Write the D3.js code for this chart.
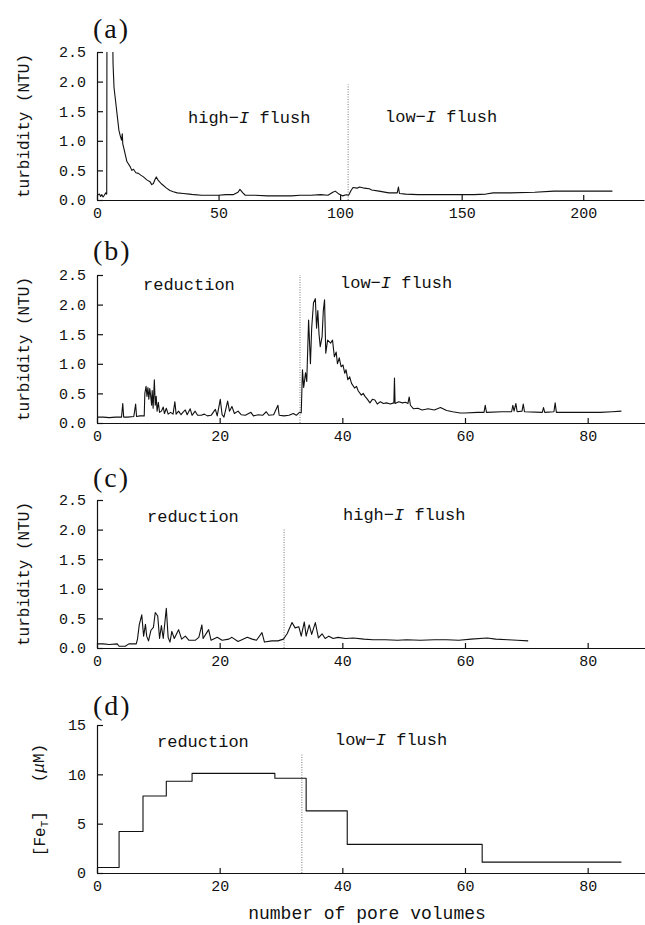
<!DOCTYPE html>
<html>
<head>
<meta charset="utf-8">
<script src="https://cdn.jsdelivr.net/npm/d3@7/dist/d3.min.js"></script>
<style>
  body { margin: 0; background: #fff; }
  svg text { font-family: "Liberation Mono", monospace; fill: #111; }
  .axis path, .axis line { stroke: #111; stroke-width: 1.2; }
  .axis text { font-size: 15px; }
  .trace { fill: none; stroke: #111; stroke-width: 1.1; stroke-linejoin: round; }
  .marker { stroke: #777; stroke-width: 1; stroke-dasharray: 1, 1.5; }
</style>
</head>
<body>
<div id="container"></div>
<script>
// ---- data ----
let xTicksA = [0, 50, 100, 150, 200]
let xTicksBCD = [0, 20, 40, 60, 80]
let turbTicks = [0, 0.5, 1, 1.5, 2, 2.5]
let feTicks = [0, 5, 10, 15]

// (a) turbidity, pore volumes vs NTU
let turbA = [[0,0.08],[1,0.1],[1.5,0.06],[2,0.09],[2.5,0.05],[3,0.08],[3.6,0.12],[4.0,0.1],[4.1,3.0],[6.4,3.0],
  [6.6,2.3],[7.0,1.9],[7.9,1.58],[9.0,1.18],[9.6,1.08],[10.1,1.01],[10.4,1.12],[10.6,0.95],[11,0.88],[12.3,0.65],
  [13.7,0.56],[14.3,0.5],[15,0.52],[16,0.46],[17,0.45],[18,0.42],[19.1,0.39],[20.5,0.34],[21.8,0.31],[22.5,0.26],
  [23.2,0.28],[23.9,0.35],[24.4,0.39],[25.2,0.33],[26.6,0.27],[28.6,0.2],[30,0.16],[31.4,0.14],[33,0.12],[35.5,0.11],
  [38,0.1],[40,0.09],[43,0.08],[46,0.08],[50,0.08],[53,0.09],[56,0.09],[58,0.13],[58.8,0.18],[60,0.12],[61,0.08],
  [65,0.08],[70,0.07],[75,0.07],[80,0.07],[83.5,0.08],[88,0.08],[92,0.09],[95,0.08],[97,0.13],[98,0.15],[99.5,0.1],
  [101,0.07],[102.5,0.09],[103.5,0.08],[104.5,0.16],[105.3,0.21],[107,0.2],[108,0.22],[110,0.2],[112,0.19],[113,0.17],
  [116,0.15],[120,0.12],[123.5,0.12],[124,0.22],[124.4,0.11],[127,0.1],[132,0.09],[140,0.09],[150,0.09],[155,0.09],
  [160,0.1],[163,0.12],[170,0.12],[180,0.13],[188,0.15],[195,0.15],[200,0.15],[205,0.15],[212,0.15]]

// (b) turbidity
let turbB = [[0,0.1],[1,0.1],[2,0.09],[3,0.1],[4,0.1],[4.2,0.33],[4.35,0.1],[5,0.1],[6,0.11],[6.3,0.32],[6.45,0.11],
  [7,0.12],[7.7,0.12],[7.8,0.5],[8.0,0.62],[8.15,0.45],[8.3,0.6],[8.45,0.4],[8.6,0.58],[8.75,0.46],[8.9,0.3],[9.0,0.55],
  [9.15,0.25],[9.35,0.73],[9.5,0.3],[9.65,0.45],[9.8,0.2],[10.0,0.35],[10.2,0.18],[10.5,0.2],[10.8,0.27],[11.0,0.16],
  [11.3,0.25],[11.6,0.15],[12.0,0.18],[12.4,0.15],[12.7,0.36],[12.9,0.15],[13.3,0.2],[13.7,0.14],[14.0,0.18],[14.4,0.22],
  [14.7,0.14],[15.2,0.24],[15.5,0.13],[16.0,0.2],[16.4,0.13],[17,0.13],[17.5,0.15],[18,0.12],[18.6,0.13],[19.3,0.23],
  [19.6,0.12],[20.1,0.4],[20.4,0.14],[20.7,0.1],[21.3,0.37],[21.6,0.2],[22,0.28],[22.4,0.16],[23,0.2],[23.5,0.14],
  [24.2,0.13],[25.1,0.18],[25.5,0.12],[26.3,0.14],[27,0.13],[27.6,0.19],[28,0.13],[28.8,0.14],[29.5,0.3],[29.7,0.13],
  [30.5,0.12],[31.3,0.13],[32,0.16],[32.5,0.13],[33,0.18],[33.3,0.17],[33.5,0.9],[33.7,0.6],[34.0,0.85],[34.2,0.7],
  [34.5,1.74],[34.8,1.0],[35.0,1.6],[35.3,2.03],[35.6,2.1],[35.8,1.6],[36.0,1.9],[36.2,1.5],[36.4,1.29],[36.7,1.46],
  [36.9,1.9],[37.1,2.08],[37.3,1.18],[37.6,1.4],[38.1,1.35],[38.4,1.4],[38.7,1.12],[39.0,1.2],[39.2,1.0],[39.5,1.1],
  [39.8,0.95],[40.1,0.98],[40.4,0.84],[40.6,0.9],[40.9,0.73],[41.2,0.78],[41.5,0.67],[42,0.59],[42.3,0.62],[42.6,0.54],
  [43.1,0.47],[43.4,0.5],[43.7,0.45],[44.1,0.4],[44.5,0.34],[44.9,0.4],[45.3,0.39],[45.7,0.32],[46.2,0.36],[46.7,0.33],
  [47.2,0.34],[47.8,0.32],[48.4,0.34],[48.5,0.76],[48.6,0.33],[49.2,0.36],[49.8,0.34],[50.3,0.35],[50.7,0.33],[50.9,0.44],
  [51.1,0.3],[51.6,0.24],[52.3,0.25],[53,0.22],[54,0.24],[55,0.22],[56,0.26],[57,0.21],[58,0.19],[59.2,0.17],[60,0.17],
  [62,0.18],[63.1,0.18],[63.3,0.3],[63.5,0.18],[66,0.19],[67.6,0.19],[67.8,0.3],[68.0,0.2],[68.3,0.33],[68.5,0.19],
  [69.3,0.2],[69.5,0.32],[69.7,0.19],[72.6,0.18],[72.8,0.26],[73.0,0.18],[74.5,0.19],[74.7,0.34],[74.9,0.18],[78,0.18],
  [80,0.18],[82,0.18],[84,0.19],[85.5,0.2]]

// (c) turbidity
let turbC = [[0,0.07],[1,0.07],[2,0.06],[3.3,0.07],[3.6,0.03],[4.6,0.03],[5.2,0.07],[6.4,0.07],[6.6,0.15],[6.9,0.4],
  [7.3,0.56],[7.6,0.2],[7.9,0.4],[8.1,0.2],[8.4,0.12],[8.8,0.3],[9.2,0.35],[9.5,0.6],[9.9,0.54],[10.2,0.16],[10.5,0.38],
  [10.8,0.16],[11.3,0.67],[11.6,0.18],[11.9,0.1],[12.2,0.28],[12.6,0.16],[13.3,0.31],[13.8,0.15],[14.4,0.2],[15,0.13],
  [16,0.13],[16.6,0.18],[17.1,0.39],[17.3,0.16],[18.2,0.31],[18.6,0.13],[19.6,0.18],[20.4,0.13],[21.5,0.15],[22,0.18],
  [23,0.11],[24.5,0.18],[25.3,0.15],[26,0.13],[26.9,0.26],[27.3,0.1],[28.5,0.12],[29.5,0.12],[30.4,0.15],[31,0.24],
  [31.8,0.43],[32.3,0.34],[32.9,0.36],[33.3,0.2],[33.8,0.44],[34.1,0.2],[34.6,0.39],[35,0.23],[35.6,0.43],[36.1,0.17],
  [36.7,0.24],[37.2,0.16],[37.8,0.2],[38.5,0.16],[39.3,0.18],[40.5,0.16],[41.8,0.17],[43.5,0.15],[45,0.14],[47,0.14],
  [49,0.13],[50.5,0.14],[52.7,0.13],[55,0.14],[57,0.14],[59,0.13],[61,0.15],[63.6,0.17],[65,0.15],[67,0.14],
  [68.5,0.13],[70.3,0.12]]

// (d) total Fe, step starts (pore volumes, uM)
let feSteps = [[0,0.55],[3.6,4.2],[7.5,7.8],[11.3,9.3],[15.5,10.1],[29,9.6],[34.1,6.3],[40.8,2.9],[62.8,1.1],[85.5,1.1]]

// phase change markers [x, top]
let markerA = [103.3, 1.95]
let markerB = [33.1, 2.5]
let markerC = [30.5, 2.0]
let markerD = [33.4, 12]

let phaseA = ['high', 'low']
let phaseB = ['reduction', 'low']
let phaseC = ['reduction', 'high']
let phaseD = ['reduction', 'low']

let width = 645, height = 925, left = 97

let svg = d3.select('#container')
  .append('svg')
  .attr('width', width)
  .attr('height', height)

let panels = [
  { tag: '(a)', data: turbA, xMax: 225, xRight: 644, xTicks: xTicksA, yMax: 2.5, yTicks: turbTicks, top: 52, bottom: 200,
    marker: markerA, phases: phaseA, tagY: 38, labels: [[188, 123], [385, 122]] },
  { tag: '(b)', data: turbB, xMax: 90, xRight: 649, xTicks: xTicksBCD, yMax: 2.5, yTicks: turbTicks, top: 275, bottom: 423,
    marker: markerB, phases: phaseB, tagY: 260, labels: [[143, 290], [340, 288]] },
  { tag: '(c)', data: turbC, xMax: 90, xRight: 649, xTicks: xTicksBCD, yMax: 2.5, yTicks: turbTicks, top: 500, bottom: 648,
    marker: markerC, phases: phaseC, tagY: 487, labels: [[147, 522], [343, 520]] },
  { tag: '(d)', data: feSteps, step: true, xMax: 90, xRight: 649, xTicks: xTicksBCD, yMax: 15, yTicks: feTicks, top: 725, bottom: 873,
    marker: markerD, phases: phaseD, tagY: 715, labels: [[157, 747], [335, 745]] }
]

function phaseText(sel, name) {
  if (name == 'reduction') {
    sel.text('reduction')
    return
  }
  sel.append('tspan').text(name + '\u2212')
  sel.append('tspan').attr('font-style', 'italic').text('I')
  sel.append('tspan').text(' flush')
}

panels.forEach((p, k) => {
  let x = d3.scaleLinear().domain([0, p.xMax]).range([left, p.xRight])
  let y = d3.scaleLinear().domain([0, p.yMax]).range([p.bottom, p.top])

  let xAxis = d3.axisBottom(x).tickValues(p.xTicks).tickSizeInner(-5).tickSizeOuter(0).tickPadding(7)
  let yAxis = d3.axisLeft(y).tickValues(p.yTicks).tickSizeInner(-6).tickSizeOuter(0).tickPadding(11)
    .tickFormat(p.step ? d3.format('d') : d3.format('.1f'))

  svg.append('g').attr('class', 'axis')
    .attr('transform', 'translate(0,' + p.bottom + ')')
    .call(xAxis)
  svg.append('g').attr('class', 'axis')
    .attr('transform', 'translate(' + left + ',0)')
    .call(yAxis)

  let clipId = 'clip' + k
  svg.append('clipPath').attr('id', clipId)
    .append('rect')
    .attr('x', left).attr('y', p.top)
    .attr('width', width - left).attr('height', p.bottom - p.top + 2)

  // phase boundary
  svg.append('line').attr('class', 'marker')
    .attr('x1', x(p.marker[0])).attr('x2', x(p.marker[0]))
    .attr('y1', y(0)).attr('y2', y(p.marker[1]))

  let line = d3.line()
    .x(d => x(d[0]))
    .y(d => y(d[1]))
    .curve(p.step ? d3.curveStepAfter : d3.curveLinear)

  svg.append('path')
    .attr('class', 'trace')
    .attr('clip-path', 'url(#' + clipId + ')')
    .attr('d', line(p.data))

  svg.append('text')
    .attr('x', 93).attr('y', p.tagY)
    .style('font-family', '"Liberation Serif", serif')
    .style('font-size', '28px')
    .style('letter-spacing', '2px')
    .text(p.tag)

  p.phases.forEach((name, i) => {
    svg.append('text')
      .attr('x', p.labels[i][0]).attr('y', p.labels[i][1])
      .style('font-size', '17px')
      .call(phaseText, name)
  })

  let cy = (p.top + p.bottom) / 2
  if (!p.step) {
    svg.append('text')
      .attr('transform', 'translate(29,' + cy + ') rotate(-90)')
      .attr('text-anchor', 'middle')
      .style('font-size', '16px')
      .text('turbidity (NTU)')
  } else {
    let t = svg.append('text')
      .attr('transform', 'translate(45,' + (cy + 1) + ') rotate(-90)')
      .attr('text-anchor', 'middle')
      .style('font-size', '16px')
    t.append('tspan').text('[Fe')
    t.append('tspan').attr('dy', '0.3em').style('font-size', '11px').text('T')
    t.append('tspan').attr('dy', '-0.3em').text(']\u00a0\u00a0\u00a0(')
    t.append('tspan').attr('font-style', 'italic').text('\u03bc')
    t.append('tspan').text('M)')
  }
})

svg.append('text')
  .attr('x', 367).attr('y', 919)
  .attr('text-anchor', 'middle')
  .style('font-size', '18px')
  .text('number of pore volumes')
</script>
</body>
</html>
